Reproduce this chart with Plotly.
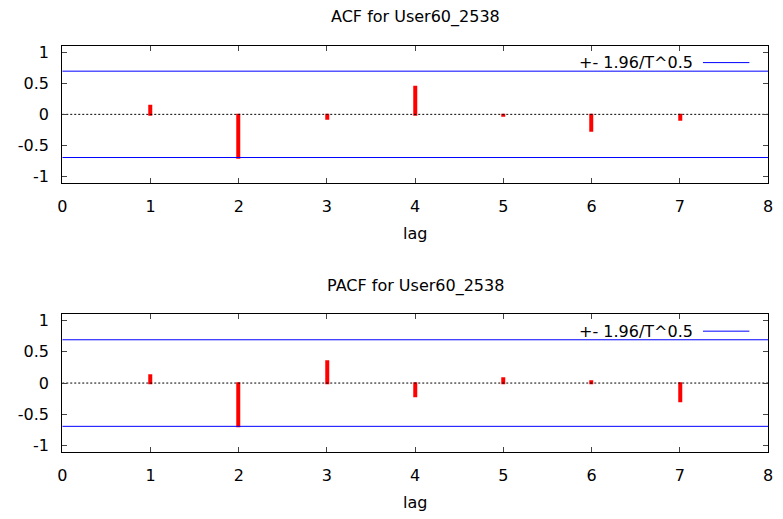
import numpy as np
import plotly.graph_objects as go

# Correlogram data for series User60_2538 (T = 8 observations)
lags = [1, 2, 3, 4, 5, 6, 7]
acf_vals = [0.14, -0.69, -0.07, 0.44, -0.02, -0.27, -0.09]
pacf_vals = [0.13, -0.69, 0.34, -0.21, 0.08, 0.02, -0.29]
n_obs = 8
band = 1.96 / np.sqrt(n_obs)

titles = ["ACF for User60_2538", "PACF for User60_2538"]
x_ticks = [0, 1, 2, 3, 4, 5, 6, 7, 8]
y_ticks = [-1, -0.5, 0, 0.5, 1]
y_tick_text = ["-1", "-0.5", "0", "0.5", "1"]
legend_text = "+- 1.96/T^0.5"

W, H = 783, 519
FONT = "DejaVu Sans"
FS = 16

# panel boxes in pixels (left, right, top, bottom)
x_px = (58, 773)
panels_px = [(43.3, 182.0), (315.0, 454.0)]


def px_x(p):
    return p / W


def px_y(p):
    return 1 - p / H


fig = go.Figure()
annotations = []
shapes = []

for i, (vals, (top, bot)) in enumerate(zip([acf_vals, pacf_vals], panels_px)):
    ax = "" if i == 0 else str(i + 1)
    xa, ya = "x" + ax, "y" + ax

    # zero reference line
    fig.add_trace(go.Scatter(x=[0, 8], y=[0, 0], mode="lines",
                             line=dict(color="black", width=1, dash="2px,2px"),
                             xaxis=xa, yaxis=ya, showlegend=False, hoverinfo="skip"))
    # confidence band
    for s in (1, -1):
        fig.add_trace(go.Scatter(x=[0, 8], y=[s * band, s * band], mode="lines",
                                 line=dict(color="#0000ff", width=1),
                                 xaxis=xa, yaxis=ya, showlegend=False, hoverinfo="skip"))
    # impulses (thick strokes with a small cap past each end)
    fig.add_trace(go.Bar(x=lags, y=vals, width=0.0224,
                         marker=dict(color="#ff0000", line=dict(width=2, color="#ff0000")),
                         xaxis=xa, yaxis=ya, showlegend=False))

    axis_common = dict(showline=True, mirror="ticks", linecolor="black", linewidth=1,
                       ticks="inside", ticklen=5, tickcolor="#444444", showgrid=False,
                       zeroline=False, tickfont=dict(family=FONT, size=FS, color="black"))
    fig.update_layout({
        "xaxis" + ax: dict(domain=[px_x(x_px[0]), px_x(x_px[1])], range=[0, 8],
                           tickvals=x_ticks, anchor="y" + ax, ticklabelstandoff=9,
                           **axis_common),
        "yaxis" + ax: dict(domain=[px_y(bot), px_y(top)], range=[-1.1, 1.1],
                           tickvals=y_ticks, ticktext=y_tick_text, anchor="x" + ax,
                           ticklabelstandoff=9, **axis_common),
    })

    # panel title
    annotations.append(dict(text=titles[i], x=px_x((x_px[0] + x_px[1]) / 2), y=px_y(top - 29),
                            xref="paper", yref="paper", showarrow=False, xanchor="center",
                            yanchor="middle", font=dict(family=FONT, size=FS, color="black")))
    # x axis title
    annotations.append(dict(text="lag", x=px_x((x_px[0] + x_px[1]) / 2), y=px_y(bot + 51),
                            xref="paper", yref="paper", showarrow=False, xanchor="center",
                            yanchor="middle", font=dict(family=FONT, size=FS, color="black")))
    # key entry: text followed by a blue sample line
    key_y = top + 17
    annotations.append(dict(text=legend_text, x=px_x(699), y=px_y(key_y),
                            xref="paper", yref="paper", showarrow=False, xanchor="right",
                            yanchor="middle", font=dict(family=FONT, size=FS, color="black")))
    shapes.append(dict(type="line", xref="paper", yref="paper",
                       x0=px_x(707), x1=px_x(754), y0=px_y(key_y), y1=px_y(key_y),
                       line=dict(color="#0000ff", width=1)))

fig.update_layout(width=W, height=H, margin=dict(l=0, r=0, t=0, b=0),
                  paper_bgcolor="white", plot_bgcolor="white", bargap=0,
                  annotations=annotations, shapes=shapes, showlegend=False)

fig.write_html("out.html")
